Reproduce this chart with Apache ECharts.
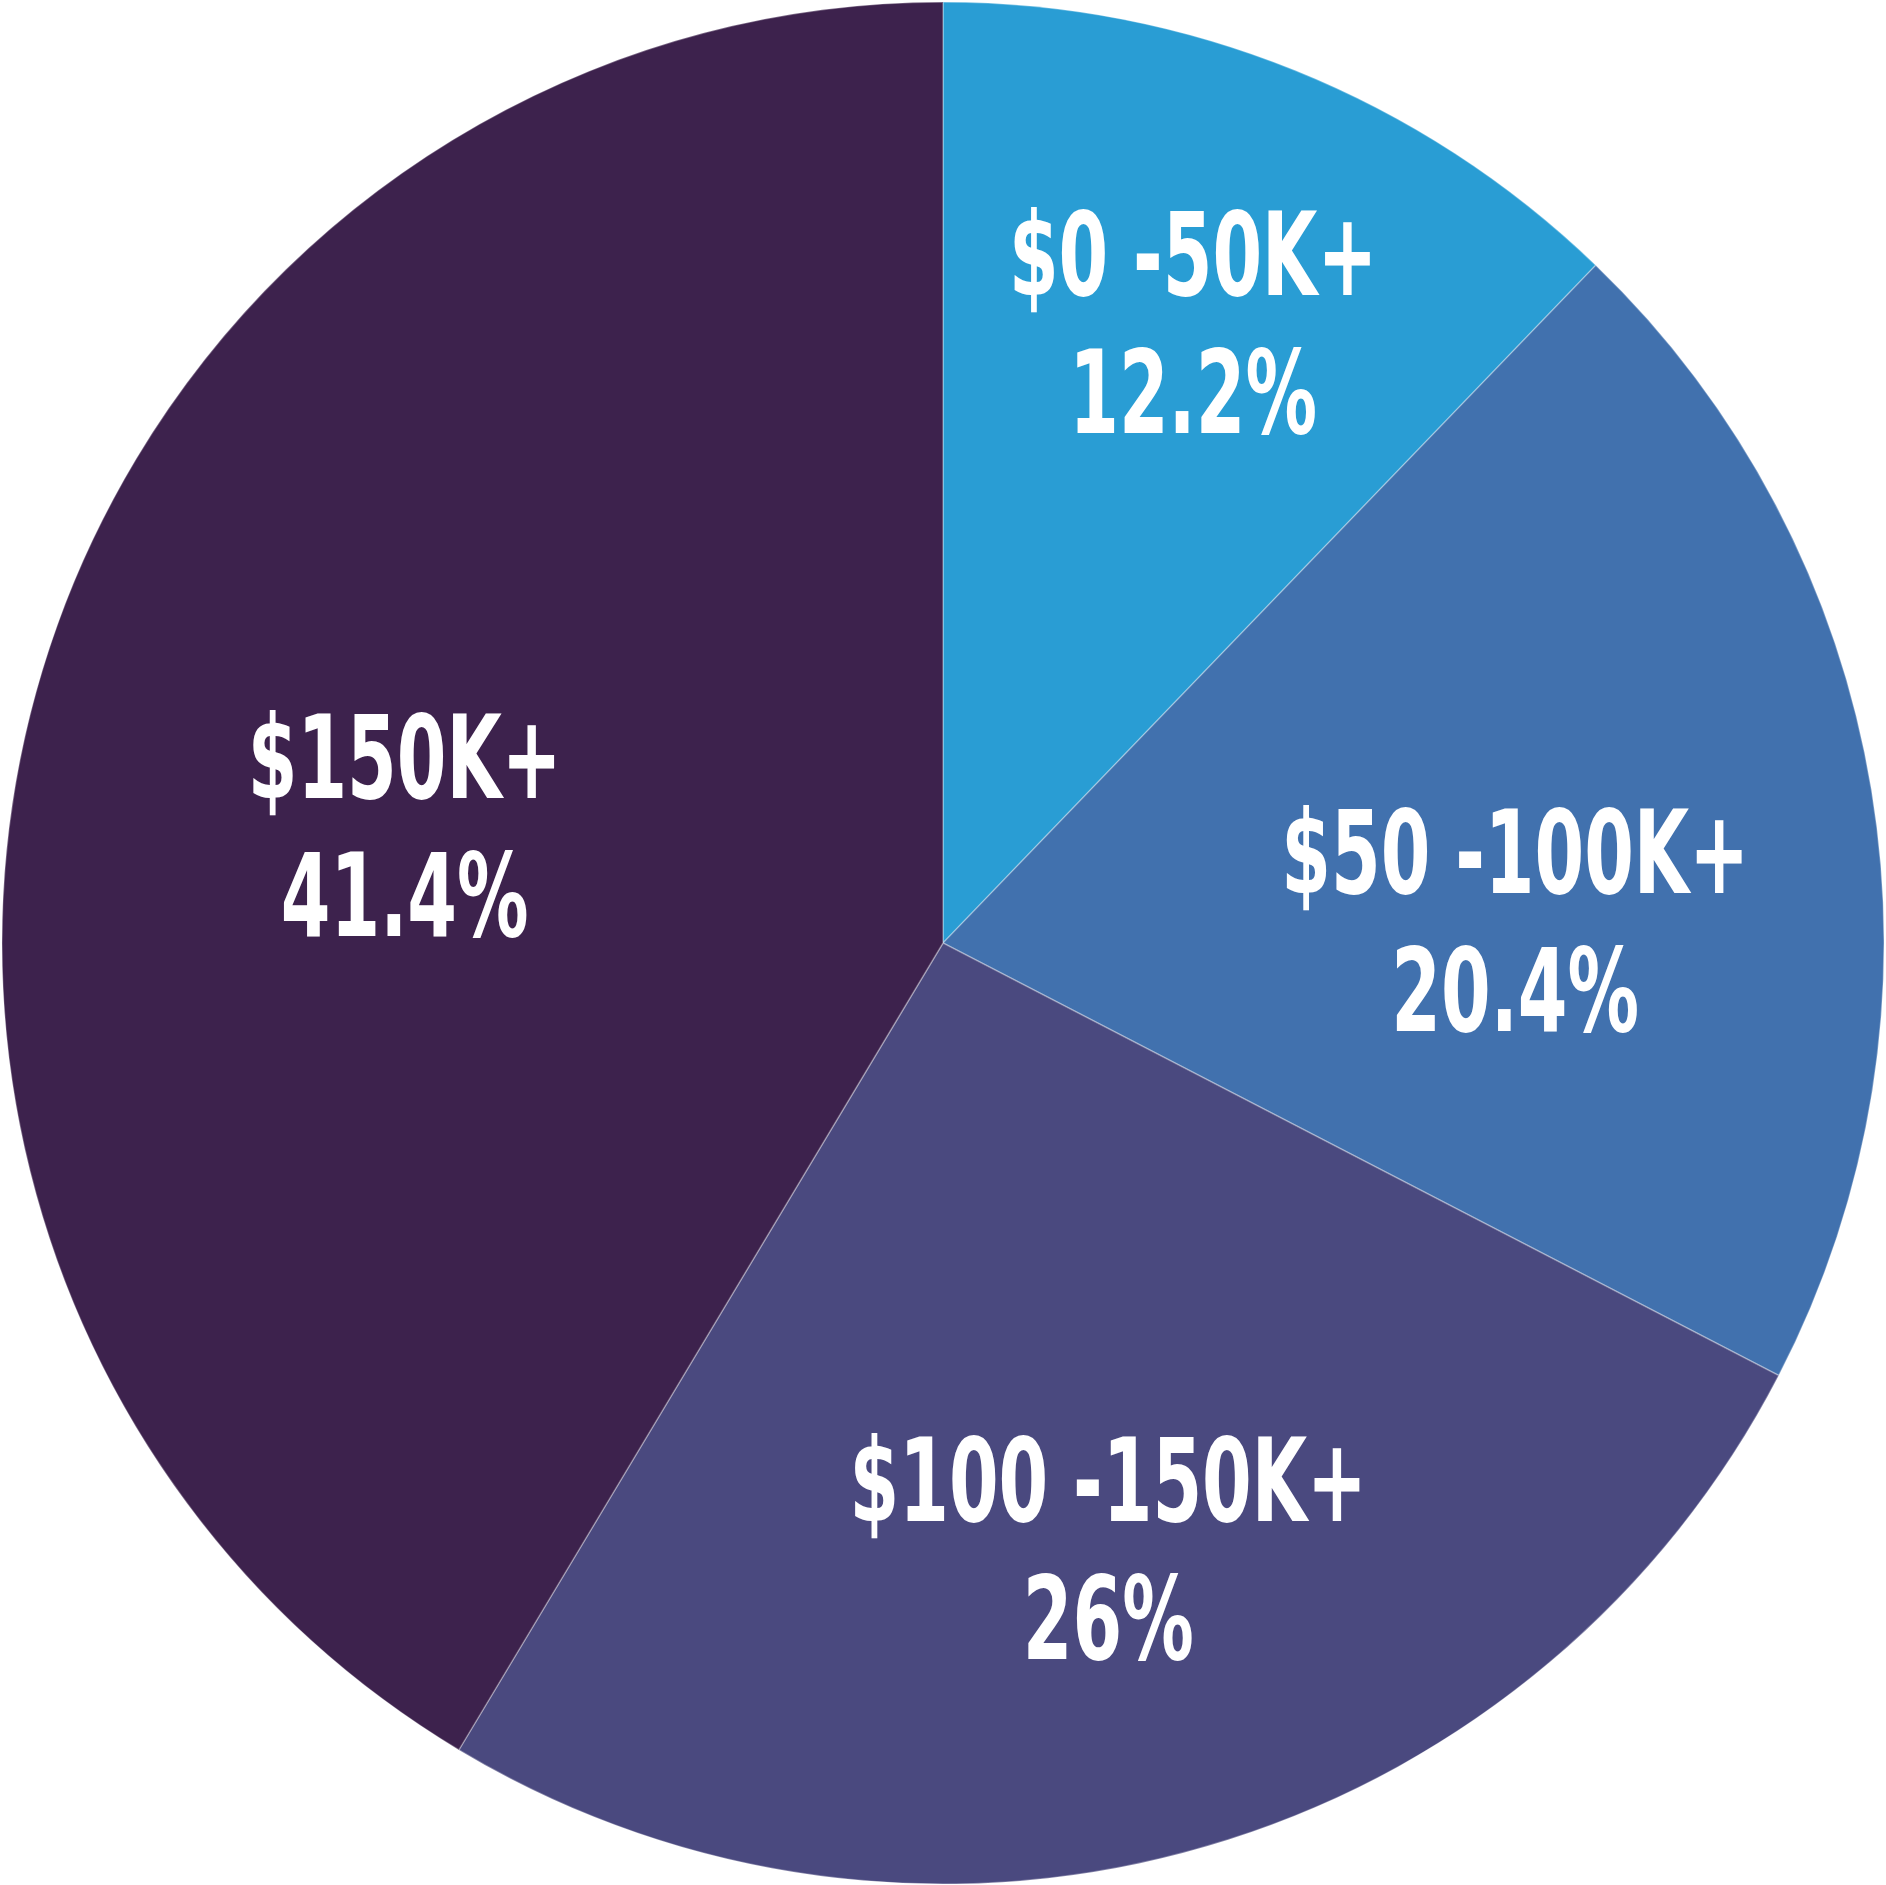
<!DOCTYPE html>
<html>
<head>
<meta charset="utf-8">
<title>Income split</title>
<script src="https://cdn.jsdelivr.net/npm/echarts@6/dist/echarts.min.js"></script>
<style>
  html, body { margin: 0; padding: 0; background: #ffffff; }
  #main { width: 1886px; height: 1885px; }
</style>
</head>
<body>
<div id="main"></div>
<script>
// categories and shares (percent), clockwise from 12 o'clock
var categories = ['$0 -50K+', '$50 -100K+', '$100 -150K+', '$150K+'];
var shares = [12.2, 20.4, 26, 41.4];
var shareLabels = ['12.2%', '20.4%', '26%', '41.4%'];
var colors = ['#299dd4', '#4171ae', '#4a497f', '#3d224d'];

// nudges of the inside labels (pixels)
var labelOffsets = [[73, -170], [105, 66], [36, 162], [-82, 21]];

var chart = echarts.init(document.getElementById('main'));

var pieData = categories.map(function (name, i) {
    return {
        name: name,
        value: shares[i],
        itemStyle: { color: colors[i] },
        label: { offset: labelOffsets[i] }
    };
});

chart.setOption({
    backgroundColor: '#ffffff',
    animation: false,
    series: [{
        type: 'pie',
        center: [943, 943],
        radius: [0, 941],
        startAngle: 90,
        clockwise: true,
        silent: true,
        itemStyle: {
            borderColor: 'rgba(255,255,255,0.3)',
            borderWidth: 1.5
        },
        label: {
            show: true,
            position: 'inside',
            color: '#ffffff',
            fontFamily: '"DejaVu Sans Condensed", sans-serif',
            fontWeight: 'bold',
            fontSize: 115,
            lineHeight: 138,
            align: 'center',
            formatter: function (p) {
                return p.name + '\n' + shareLabels[p.dataIndex];
            }
        },
        labelLine: { show: false },
        data: pieData
    }]
});

// the original lettering is a very narrow display face; squeeze the labels sideways
var squeeze = 0.69;
function squeezeLabels() {
    var zr = chart.getZr();
    var changed = false;
    zr.storage.getDisplayList(true).forEach(function (el) {
        var label = el.getTextContent && el.getTextContent();
        if (label && label.scaleX !== squeeze) {
            label.scaleX = squeeze;
            label.markRedraw();
            el.markRedraw();
            changed = true;
        }
    });
    if (changed) {
        zr.refreshImmediately();
    }
}
squeezeLabels();
chart.on('finished', squeezeLabels);
</script>
</body>
</html>
